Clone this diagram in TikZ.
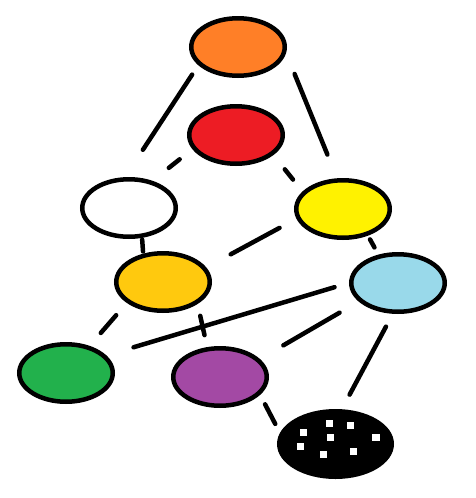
\documentclass[tikz,border=0pt]{standalone}
\usepackage{xcolor}
\usepackage{tikz}
\usetikzlibrary{calc, shapes.geometric}
\definecolor{paintorange}{RGB}{255, 127, 39}
\definecolor{paintred}{RGB}{237, 28, 36}
\definecolor{paintyellow}{RGB}{255, 242, 0}
\definecolor{paintamber}{RGB}{255, 201, 14}
\definecolor{paintblue}{RGB}{153, 217, 234}
\definecolor{paintgreen}{RGB}{34, 177, 76}
\definecolor{paintpurple}{RGB}{163, 73, 164}

\begin{document}
\begin{tikzpicture}[
    x=1pt, y=-1pt,
    elip/.style={ellipse, draw, line width=4.5pt, minimum width=93.5pt,
                 minimum height=57.5pt, inner sep=0pt, outer sep=0pt},
    garis/.style={line width=4.5pt, line cap=round}
  ]
    \useasboundingbox (0,0) rectangle (476,498);
    \node[elip, fill=paintorange] (orn) at (238,47)  {};
    \node[elip, fill=paintred]    (red) at (236,135) {};
    \node[elip, fill=white]       (wht) at (129,208) {};
    \node[elip, fill=paintyellow] (yel) at (343,209) {};
    \node[elip, fill=paintamber]  (amb) at (163,282) {};
    \node[elip, fill=paintblue]   (blu) at (398,283) {};
    \node[elip, fill=paintgreen]  (grn) at (66,373)  {};
    \node[elip, fill=paintpurple] (pur) at (220,377) {};
    \node[elip, fill=black, minimum width=112.5pt, minimum height=65.5pt] (blk) at (335.5,444) {};
    \foreach \dx/\dy in {-32.2/-11.7, -6.2/-20.7, 14.8/-18.7, -5.2/-6.7,
                         40.5/-6.7, -34.8/2.3, -12.2/10.3, 17.8/7.3}
      \fill[white] ($(blk)+(\dx,\dy)$) ++(-3.6,-3.6) rectangle ++(7.2,7.2);
    \draw[garis, shorten <=13.5pt, shorten >=35.5pt] (orn.203) -- (wht.101);
    \draw[garis, shorten <=26.5pt, shorten >=28pt]   (orn.357) -- (yel.100);
    \draw[garis, shorten <=18.5pt, shorten >=23.5pt] (red.197) -- (wht.50);
    \draw[garis, shorten <=20.5pt, shorten >=17.5pt] (red.333) -- (yel.158);
    \draw[garis, shorten <=21.5pt, shorten >=30pt]   (yel.191) -- (amb.18);
    \draw[garis, shorten <=4pt, shorten >=4.5pt]     (wht.295) -- (amb.127);
    \draw[garis, shorten <=6.5pt, shorten >=10.5pt]  (yel.314) -- (blu.125);
    \draw[garis, shorten <=18.5pt, shorten >=19.5pt] (amb.209) -- (grn.49);
    \draw[garis, shorten <=14.5pt, shorten >=14.5pt] (amb.330) -- (pur.114);
    \draw[garis, shorten <=17.5pt, shorten >=31pt]   (blu.179) -- (grn.24);
    \draw[garis, shorten <=24.5pt, shorten >=29.5pt] (blu.205) -- (pur.24);
    \draw[garis, shorten <=17pt, shorten >=19pt]     (blu.262) -- (blk.81);
    \draw[garis, shorten <=13pt, shorten >=13pt]     (pur.338) -- (blk.171);
  \end{tikzpicture}
\end{document}
